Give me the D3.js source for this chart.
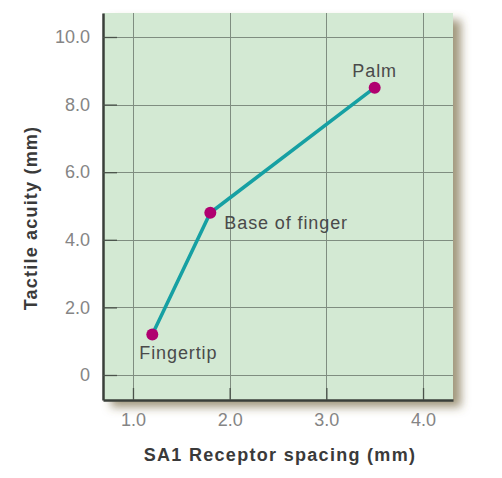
<!DOCTYPE html>
<html>
<head>
<meta charset="utf-8">
<script src="https://cdn.jsdelivr.net/npm/d3@7"></script>
<style>
  body { margin: 0; background: #fff; }
  svg text { font-family: "Liberation Sans", Arial, sans-serif; }
</style>
</head>
<body>
<div id="chart"></div>
<script>
// SA1 receptor spacing vs tactile acuity
var sites = ["Fingertip", "Base of finger", "Palm"];
var spacing = [1.2, 1.8, 3.5];
var acuity = [1.2, 4.8, 8.5];
var xTicks = [1, 2, 3, 4];
var yTicks = [0, 2, 4, 6, 8, 10];

var width = 502, height = 478;
var plotLeft = 103, plotRight = 453, plotTop = 13, plotBottom = 400;

var svg = d3.select("#chart")
    .append("svg")
    .attr("width", width)
    .attr("height", height);

var defs = svg.append("defs");
var shadow = defs.append("filter")
    .attr("id", "shadow")
    .attr("x", "-10%").attr("y", "-10%")
    .attr("width", "130%").attr("height", "130%");
shadow.append("feDropShadow")
    .attr("dx", 8).attr("dy", 7)
    .attr("stdDeviation", 5)
    .attr("flood-color", "#6e5e35")
    .attr("flood-opacity", 0.65);

var x = d3.scaleLinear().domain([0.69, 4.31]).range([plotLeft, plotRight]);
var y = d3.scaleLinear().domain([-0.74, 10.71]).range([plotBottom, plotTop]);

// panel
svg.append("rect")
    .attr("x", plotLeft)
    .attr("y", plotTop)
    .attr("width", plotRight - plotLeft)
    .attr("height", plotBottom - plotTop)
    .attr("fill", "#d3e9d3")
    .attr("filter", "url(#shadow)");

// grid
var grid = svg.append("g").attr("stroke", "#7f8d80").attr("stroke-width", 1);
grid.selectAll(".gx")
    .data(xTicks)
    .enter().append("line")
    .attr("x1", function(d){ return Math.round(x(d)) + 0.5; })
    .attr("x2", function(d){ return Math.round(x(d)) + 0.5; })
    .attr("y1", plotTop)
    .attr("y2", plotBottom);
grid.selectAll(".gy")
    .data(yTicks)
    .enter().append("line")
    .attr("x1", plotLeft)
    .attr("x2", plotRight)
    .attr("y1", function(d){ return Math.round(y(d)) + 0.5; })
    .attr("y2", function(d){ return Math.round(y(d)) + 0.5; });

var fmt = function(d){ return d === 0 ? "0" : d3.format(".1f")(d); };

var yAxis = svg.append("g")
    .attr("transform", "translate(" + plotLeft + ",0)")
    .call(d3.axisLeft(y)
        .tickValues(yTicks)
        .tickFormat(fmt)
        .tickSizeInner(-14)
        .tickSizeOuter(0)
        .tickPadding(13));

var xAxis = svg.append("g")
    .attr("transform", "translate(0," + plotBottom + ")")
    .call(d3.axisBottom(x)
        .tickValues(xTicks)
        .tickFormat(fmt)
        .tickSizeInner(-12)
        .tickSizeOuter(0)
        .tickPadding(13));

[yAxis, xAxis].forEach(function(a){
    a.select(".domain").attr("stroke", "#3a3f3a").attr("stroke-width", 2.5);
    a.selectAll(".tick line").attr("stroke", "#4a524a").attr("stroke-width", 1.3);
    a.selectAll(".tick text")
        .attr("fill", "#858585")
        .style("font-size", "18px");
});

// line + points
var pts = sites.map(function(s, i){ return {name: s, sx: spacing[i], ay: acuity[i]}; });

svg.append("path")
    .datum(pts)
    .attr("fill", "none")
    .attr("stroke", "#16a0a3")
    .attr("stroke-width", 3.5)
    .attr("d", d3.line()
        .x(function(d){ return x(d.sx); })
        .y(function(d){ return y(d.ay); }));

svg.selectAll(".dot")
    .data(pts)
    .enter().append("circle")
    .attr("cx", function(d){ return x(d.sx); })
    .attr("cy", function(d){ return y(d.ay); })
    .attr("r", 6)
    .attr("fill", "#b00070");

// point labels
var labelPos = [
    {dx: -13, dy: 25, anchor: "start"},
    {dx: 14, dy: 16, anchor: "start"},
    {dx: 0, dy: -11, anchor: "middle"}
];
svg.selectAll(".lbl")
    .data(pts)
    .enter().append("text")
    .attr("x", function(d, i){ return x(d.sx) + labelPos[i].dx; })
    .attr("y", function(d, i){ return y(d.ay) + labelPos[i].dy; })
    .attr("text-anchor", function(d, i){ return labelPos[i].anchor; })
    .attr("fill", "#4a4a4a")
    .style("font-size", "18px")
    .style("letter-spacing", "0.9px")
    .text(function(d){ return d.name; });

// axis titles
svg.append("text")
    .attr("x", 280)
    .attr("y", 461)
    .attr("text-anchor", "middle")
    .attr("fill", "#3a3a3a")
    .style("font-size", "18px")
    .style("font-weight", "bold")
    .style("letter-spacing", "1.3px")
    .text("SA1 Receptor spacing (mm)");

svg.append("text")
    .attr("transform", "translate(37,218) rotate(-90)")
    .attr("text-anchor", "middle")
    .attr("fill", "#3a3a3a")
    .style("font-size", "18px")
    .style("font-weight", "bold")
    .style("letter-spacing", "1.2px")
    .text("Tactile acuity (mm)");
</script>
</body>
</html>
